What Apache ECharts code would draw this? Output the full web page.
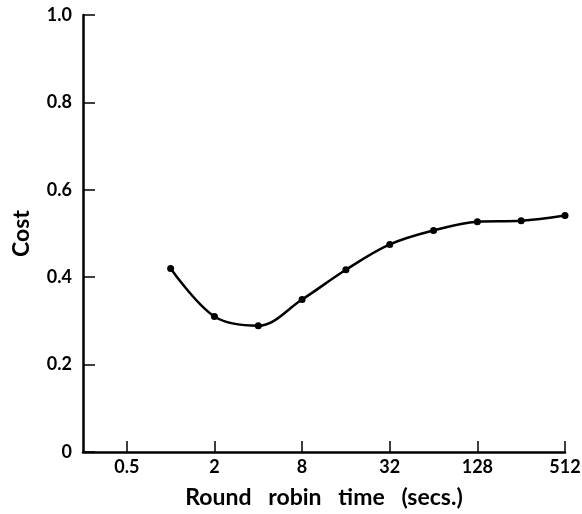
<!DOCTYPE html>
<html lang="en">
<head>
  <meta charset="UTF-8">
  <title>Cost vs round robin time</title>
  <script src="https://cdn.jsdelivr.net/npm/echarts@6.0.0/dist/echarts.min.js"></script>
  <style>
    html, body { margin: 0; padding: 0; background: #fff; }
    #chart { width: 582px; height: 514px; }
  </style>
</head>
<body>
  <div id="chart"></div>
  <script>
    // round robin time (secs.) and cost
    const times = [1, 2, 4, 8, 16, 32, 64, 128, 256, 512];
    const costs = [0.42, 0.31, 0.289, 0.349, 0.417, 0.475, 0.507, 0.527, 0.529, 0.541];
    const xTicks = [0.5, 2, 8, 32, 128, 512];

    const font = 'Lato, "DejaVu Sans", sans-serif';
    const chart = echarts.init(document.getElementById('chart'));
    chart.setOption({
      animation: false,
      grid: { left: 83, right: 17, top: 15, bottom: 62, containLabel: false, outerBoundsMode: 'none' },
      xAxis: {
        type: 'log',
        logBase: 2,
        min: 0.25,
        max: 512,
        name: 'Round   robin   time   (secs.)',
        nameLocation: 'middle',
        nameGap: 34,
        nameTextStyle: { color: '#000', fontSize: 23, fontWeight: 'bold', fontFamily: font },
        axisLine: { lineStyle: { color: '#000', width: 2.5 } },
        axisTick: { inside: true, length: 11, customValues: xTicks, lineStyle: { color: '#000', width: 1.5 } },
        axisLabel: {
          customValues: xTicks,
          color: '#000', fontSize: 18, fontWeight: 'bold', fontFamily: font, margin: 6,
          formatter: v => String(v)
        },
        splitLine: { show: false },
        minorTick: { show: false }
      },
      yAxis: {
        type: 'value',
        min: 0,
        max: 1,
        interval: 0.2,
        name: 'Cost',
        nameLocation: 'middle',
        nameRotate: 90,
        nameGap: 50,
        nameTextStyle: { color: '#000', fontSize: 23, fontWeight: 'bold', fontFamily: font },
        axisLine: { show: true, lineStyle: { color: '#000', width: 2.5 } },
        axisTick: { show: true, inside: true, length: 12, lineStyle: { color: '#000', width: 1.5 } },
        axisLabel: {
          color: '#000', fontSize: 18, fontWeight: 'bold', fontFamily: font, margin: 11,
          formatter: v => (v === 0 ? '0' : v.toFixed(1))
        },
        splitLine: { show: false }
      },
      series: [{
        type: 'line',
        data: times.map((t, i) => [t, costs[i]]),
        smooth: 0.35,
        symbol: 'circle',
        symbolSize: 7,
        itemStyle: { color: '#000' },
        lineStyle: { color: '#000', width: 2.5 }
      }]
    });
  </script>
</body>
</html>
